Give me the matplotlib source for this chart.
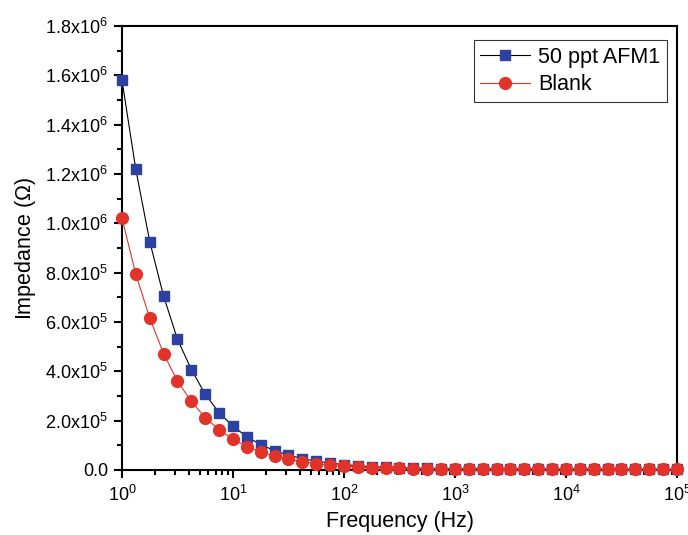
"""
Impedance vs frequency: 50 ppt AFM1 vs Blank
"""

import matplotlib.pyplot as plt
import matplotlib.ticker as mticker
import numpy as np

plt.rcParams['font.family'] = 'Liberation Sans'
plt.rcParams['mathtext.fontset'] = 'custom'
plt.rcParams['mathtext.rm'] = 'Liberation Sans'

# ── Data ───────────────────────────────────────────────────────────────────────
freq = [1.0, 1.33, 1.78, 2.37, 3.16, 4.22, 5.62, 7.5,
        10.0, 13.3, 17.8, 23.7, 31.6, 42.2, 56.2, 75.0,
        100.0, 133.0, 178.0, 237.0, 316.0, 422.0, 562.0, 750.0,
        1e3, 1.33e3, 1.78e3, 2.37e3, 3.16e3, 4.22e3, 5.62e3, 7.5e3,
        1e4, 1.33e4, 1.78e4, 2.37e4, 3.16e4, 4.22e4, 5.62e4, 7.5e4, 1e5]

afm1 = [1.58e6, 1.22e6, 9.25e5, 7.05e5, 5.3e5, 4.07e5, 3.07e5, 2.32e5,
        1.78e5, 1.35e5, 1.03e5, 7.8e4, 6.0e4, 4.6e4, 3.6e4, 2.8e4,
        2.2e4, 1.7e4, 1.35e4, 1.1e4, 9.0e3, 7.5e3, 6.5e3, 5.8e3,
        5.2e3, 4.8e3, 4.5e3, 4.3e3, 4.1e3, 4.0e3, 3.9e3, 3.8e3,
        3.7e3, 3.6e3, 3.5e3, 3.4e3, 3.3e3, 3.2e3, 3.1e3, 3.0e3, 2.9e3]

blank = [1.02e6, 7.95e5, 6.15e5, 4.72e5, 3.6e5, 2.78e5, 2.12e5, 1.63e5,
         1.25e5, 9.5e4, 7.3e4, 5.6e4, 4.3e4, 3.3e4, 2.6e4, 2.0e4,
         1.55e4, 1.2e4, 9.5e3, 7.5e3, 6.2e3, 5.3e3, 4.7e3, 4.3e3,
         4.0e3, 3.8e3, 3.6e3, 3.5e3, 3.4e3, 3.3e3, 3.2e3, 3.1e3,
         3.0e3, 2.9e3, 2.8e3, 2.7e3, 2.6e3, 2.5e3, 2.4e3, 2.3e3, 2.2e3]

y_ticks = [0, 2e5, 4e5, 6e5, 8e5, 1e6, 1.2e6, 1.4e6, 1.6e6, 1.8e6]
y_labels = ['0.0', r'2.0x10$^5$', r'4.0x10$^5$', r'6.0x10$^5$', r'8.0x10$^5$',
            r'1.0x10$^6$', r'1.2x10$^6$', r'1.4x10$^6$', r'1.6x10$^6$', r'1.8x10$^6$']

BLUE = '#2c41a0'
RED = '#e2332a'

fig = plt.figure(figsize=(6.88, 5.35), dpi=100)
ax = fig.add_axes([122 / 688, 65 / 535, 555 / 688, 444 / 535])

ax.plot(freq, afm1, color='black', linewidth=0.8, marker='s', markersize=7.5,
        markerfacecolor=BLUE, markeredgecolor=BLUE, label='50 ppt AFM1',
        clip_on=False, zorder=3)
ax.plot(freq, blank, color=RED, linewidth=0.8, marker='o', markersize=8.5,
        markerfacecolor=RED, markeredgecolor=RED, label='Blank',
        clip_on=False, zorder=4)

ax.set_xscale('log')
ax.set_xlim(1, 1e5)
ax.set_ylim(0, 1.8e6)
ax.set_yticks(y_ticks)
ax.set_yticklabels(y_labels)
ax.yaxis.set_minor_locator(mticker.MultipleLocator(1e5))
ax.xaxis.set_major_locator(mticker.LogLocator(base=10, numticks=10))
ax.xaxis.set_minor_locator(mticker.LogLocator(base=10, subs=np.arange(2, 10), numticks=10))
ax.xaxis.set_minor_formatter(mticker.NullFormatter())

ax.tick_params(which='major', direction='out', length=6, width=1.5, labelsize=13,
               top=False, right=False)
ax.tick_params(which='minor', direction='out', length=3.5, width=1.5,
               top=False, right=False)
ax.tick_params(axis='x', which='major', pad=5)
ax.tick_params(axis='y', which='major', pad=4)
for s in ax.spines.values():
    s.set_linewidth(1.5)

ax.set_xlabel('Frequency (Hz)', fontsize=15.5, labelpad=4)
ax.set_ylabel('Impedance ($\\Omega$)', fontsize=15.5, labelpad=5)

leg = ax.legend(loc='upper right', bbox_to_anchor=(0.982, 0.968), fontsize=15.5,
                frameon=True, fancybox=False, edgecolor='black',
                handlelength=2.3, borderpad=0.3, labelspacing=0.3,
                handletextpad=0.4, borderaxespad=0)
leg.get_frame().set_linewidth(0.8)

plt.savefig('out.png', dpi=100)
